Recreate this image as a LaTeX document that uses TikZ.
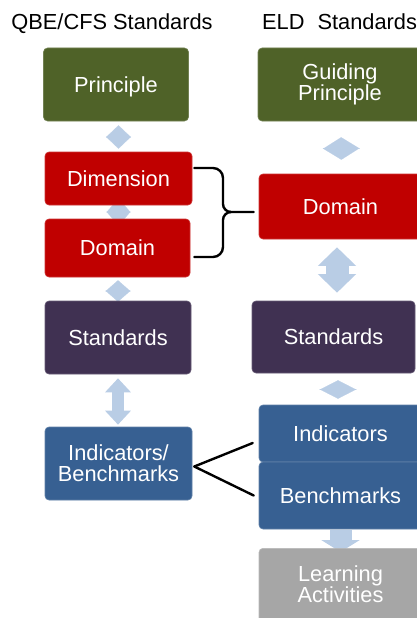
\documentclass[tikz,border=0pt]{standalone}
\usepackage{fontspec}
\setmainfont{Liberation Sans}
\usetikzlibrary{arrows.meta,backgrounds,calc}

\definecolor{cGreen}{HTML}{4F6228}
\definecolor{cRed}{HTML}{C00000}
\definecolor{cPurple}{HTML}{403152}
\definecolor{cBlue}{HTML}{376092}
\definecolor{cGrey}{HTML}{A6A6A6}
\definecolor{cArrow}{HTML}{B9CDE5}

\begin{document}
\begin{tikzpicture}[x=1pt,y=-1pt,
  boxfont/.style={font=\fontsize{21.8}{21}\selectfont},
  box/.style={rounded corners=4pt, fill=#1, draw=#1!80!white, line width=0.6pt,
    text=white, align=center, inner sep=0pt, boxfont},
  boxtext/.style={text=white, align=center, inner sep=0pt, boxfont},
  head/.style={font=\fontsize{21.8}{21}\selectfont, text=black, inner sep=0pt},
  link/.style={draw=cArrow, fill=cArrow},
  brace/.style={draw=black, line width=2.4pt, line cap=round, rounded corners=0pt},
]
\useasboundingbox (0,0) rectangle (417,618);
\clip (0,0) rectangle (417,618);

% column headings
\node[head, anchor=base] (hq) at (112,29.5) {QBE/CFS Standards};
\node[head, anchor=base west] (he) at (262,29.5) {ELD\hspace{13pt}Standards};

% left column
\node[box=cGreen, minimum width=145pt, minimum height=73pt, text depth=0pt] (prin) at (116,84.5) {Principle};
\node[box=cRed, minimum width=147pt, minimum height=53pt] (dim) at (118.5,178.5) {Dimension};
\node[box=cRed, minimum width=145pt, minimum height=58pt] (domL) at (117.5,248) {Domain};
\node[box=cPurple, minimum width=146pt, minimum height=73pt] (stdL) at (118,337.5) {Standards};
\node[box=cBlue, minimum width=147pt, minimum height=73pt] (indL) at (118.5,463.5) {Indicators/\\Benchmarks};

% right column
\node[box=cGreen, minimum width=164pt, minimum height=73pt] (guide) at (340,84.5) {Guiding\\Principle};
\node[box=cRed, minimum width=163pt, minimum height=65pt] (domR) at (340.5,206.5) {Domain};
\node[box=cPurple, minimum width=163pt, minimum height=72pt] (stdR) at (333.5,337) {Standards};
\node[box=cBlue, minimum width=163pt, minimum height=57pt] (ind) at (340.5,433.5) {Indicators};
\node[box=cBlue, minimum width=163pt, minimum height=67pt] (bench) at (340.5,495.5) {Benchmarks};
\node[box=cGrey, minimum width=163pt, minimum height=90pt, anchor=north] (learn) at (340.5,548) {};
\node[boxtext] (learnT) at (340.5,584) {Learning\\Activities};

% light connectors behind the boxes
\begin{scope}[on background layer]
  \draw[link, line width=0.1pt, {Triangle[width=25pt,length=12pt]}-{Triangle[width=25pt,length=12pt]},
        shorten <=4pt, shorten >=3pt] (dim.north |- prin.south) -- (dim.north);
  \draw[link, line width=0.1pt, {Triangle[width=24pt,length=14pt]}-{Triangle[width=24pt,length=14pt]},
        shorten <=-7pt, shorten >=-7pt] (dim.south) -- (dim.south |- domL.north);
  \draw[link, line width=0.1pt, {Triangle[width=25pt,length=11pt]}-{Triangle[width=25pt,length=11pt]},
        shorten <=3pt, shorten >=-1pt] (stdL.north |- domL.south) -- (stdL.north);
  \draw[link, line width=12pt, {Triangle[width=25pt,length=14pt]}-{Triangle[width=25pt,length=14pt]},
        shorten <=4pt, shorten >=2pt] (stdL.south) -- (stdL.south |- indL.north);

  \draw[link, line width=0.1pt, {Triangle[width=37pt,length=11.5pt]}-{Triangle[width=37pt,length=11.5pt]},
        shorten <=16pt, shorten >=14pt] ([xshift=1pt]guide.south) -- ([xshift=1pt]domR.north);
  \draw[link, line width=23pt, {Triangle[width=37pt,length=18.5pt]}-{Triangle[width=37pt,length=18.5pt]},
        shorten <=8pt, shorten >=8pt] ([xshift=-3.5pt]domR.south) -- ([xshift=3.5pt]stdR.north);
  \draw[link, line width=0.1pt, {Triangle[width=37pt,length=9.5pt]}-{Triangle[width=37pt,length=9.5pt]},
        shorten <=7pt, shorten >=6pt] ([xshift=4.5pt]stdR.south) -- ([xshift=-2.5pt]ind.north);
  \draw[link, line width=22pt, -{Triangle[width=38pt,length=12pt]},
        shorten <=1pt, shorten >=-4pt] (bench.south) -- (learn.north);
\end{scope}

% brace joining Dimension and Domain to the ELD Domain
\coordinate (bt) at ([xshift=2pt,yshift=10.5pt]dim.east);
\coordinate (bb) at ([xshift=4pt,yshift=-9pt]domL.east);
\coordinate (bk) at ([xshift=-5pt,yshift=-5.5pt]domR.west);
\draw[brace] (bt) -- (213,168) to[out=0,in=90] (223,178) -- (223,204)
  to[out=-90,in=180] (231,212) -- (bk);
\draw[brace] (bb) -- (213,257) to[out=0,in=-90] (223,247) -- (223,220)
  to[out=90,in=180] (231,212);

% lines fanning out from Indicators/Benchmarks
\coordinate (fan) at ([xshift=2pt,yshift=-3pt]indL.east);
\draw[brace] (fan) -- ([xshift=-6pt,yshift=-9.5pt]ind.west);
\draw[brace] (fan) -- ([xshift=-5pt]bench.west);
\end{tikzpicture}
\end{document}
